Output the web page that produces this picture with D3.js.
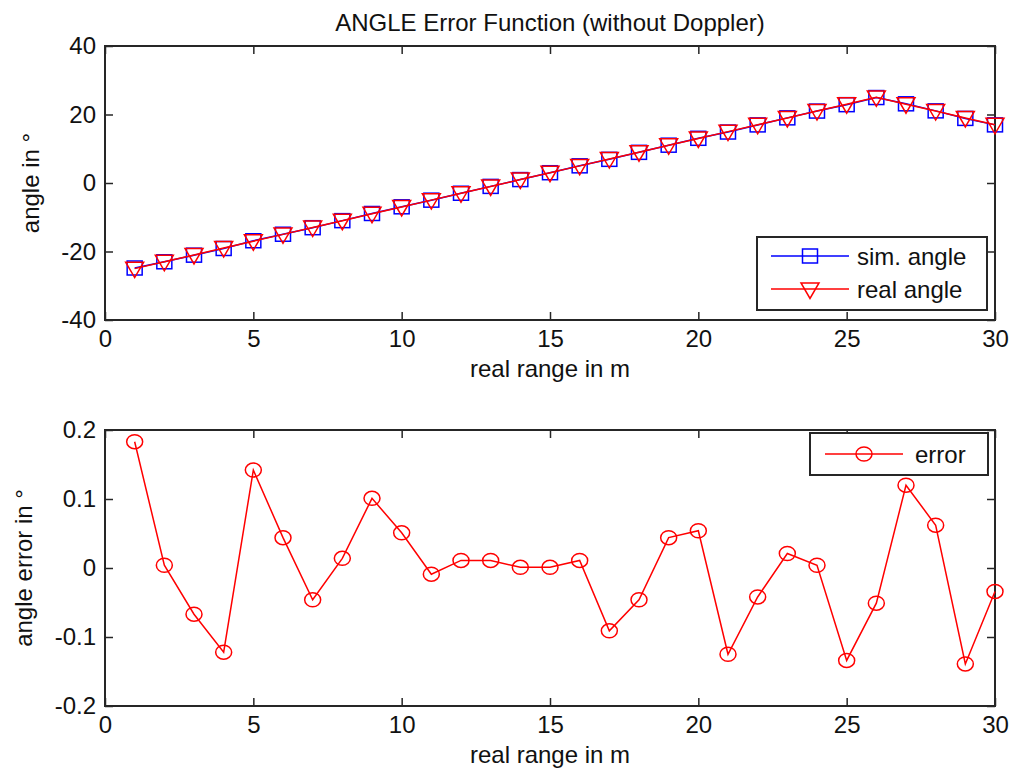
<!DOCTYPE html>
<html>
<head>
<meta charset="utf-8">
<script src="https://cdn.jsdelivr.net/npm/d3@7"></script>
<style>
  body { margin: 0; background: #fff; }
  svg text { font-family: "Liberation Sans", Arial, sans-serif; fill: #111; }
</style>
</head>
<body>
<div id="chart"></div>
<script>
// range in m (x positions of every sample)
const rangeM = [1, 2, 3, 4, 5, 6, 7, 8, 9, 10, 11, 12, 13, 14, 15,
                16, 17, 18, 19, 20, 21, 22, 23, 24, 25, 26, 27, 28, 29, 30];

// real angle in degrees (red triangles)
const realAngle = [-25, -23, -21, -19, -17, -15, -13, -11, -9, -7, -5, -3, -1, 1, 3,
                   5, 7, 9, 11, 13, 15, 17, 19, 21, 23, 25, 23, 21, 19, 17];

// simulated angle in degrees (blue squares)
const simAngle = [-24.82, -23.0, -21.07, -19.12, -16.86, -14.96, -13.05, -10.99, -8.9, -6.95,
                  -5.01, -2.99, -0.99, 1.0, 3.0, 5.01, 6.91, 8.95, 11.04, 13.05,
                  14.88, 16.96, 19.02, 21.0, 22.87, 24.95, 23.12, 21.06, 18.86, 16.97];

// angle error in degrees (red circles)
const angleError = [0.183, 0.004, -0.067, -0.122, 0.142, 0.044, -0.046, 0.014, 0.101, 0.051,
                    -0.009, 0.011, 0.011, 0.001, 0.001, 0.011, -0.091, -0.046, 0.044, 0.054,
                    -0.125, -0.042, 0.021, 0.004, -0.134, -0.051, 0.12, 0.062, -0.139, -0.034];

const xTicks = [0, 5, 10, 15, 20, 25, 30];
const yTicksTop = [-40, -20, 0, 20, 40];
const yTicksBottom = [-0.2, -0.1, 0, 0.1, 0.2];
const yTickLabelsBottom = ["-0.2", "-0.1", "0", "0.1", "0.2"];

const W = 1013, H = 771;
const FONT = 24;
const left = 105, right = 995;

const svg = d3.select('#chart').append('svg')
    .attr('width', W)
    .attr('height', H);

const x = d3.scaleLinear().domain([0, 30]).range([left, right]);

// draws one MATLAB style axes box with inward ticks
function drawAxes(y, top, bottom, yTicks, yFormat, yLabel, yLabelX) {
    const g = svg.append('g');

    g.append('g')
        .attr('transform', `translate(0,${bottom})`)
        .call(d3.axisBottom(x).tickValues(xTicks).tickSize(-8).tickPadding(10).tickFormat(d => String(d)));
    g.append('g')
        .attr('transform', `translate(0,${top})`)
        .call(d3.axisTop(x).tickValues(xTicks).tickSize(-8).tickFormat(''));
    g.append('g')
        .attr('transform', `translate(${left},0)`)
        .call(d3.axisLeft(y).tickValues(yTicks).tickSize(-8).tickPadding(9).tickFormat(yFormat));
    g.append('g')
        .attr('transform', `translate(${right},0)`)
        .call(d3.axisRight(y).tickValues(yTicks).tickSize(-8).tickFormat(''));

    g.selectAll('.domain').remove();
    g.selectAll('.tick line').attr('stroke', '#262626').attr('stroke-width', 1.5);
    g.selectAll('.tick text')
        .style('font-size', FONT + 'px')
        .style('font-family', '"Liberation Sans", Arial, sans-serif')
        .attr('fill', '#111');

    g.append('rect')
        .attr('x', left).attr('y', top)
        .attr('width', right - left).attr('height', bottom - top)
        .attr('fill', 'none')
        .attr('stroke', '#262626')
        .attr('stroke-width', 2);

    g.append('text')
        .attr('x', (left + right) / 2)
        .attr('y', bottom + 57)
        .attr('text-anchor', 'middle')
        .style('font-size', FONT + 'px')
        .text('real range in m');

    g.append('text')
        .attr('transform', `translate(${yLabelX},${(top + bottom) / 2}) rotate(-90)`)
        .attr('text-anchor', 'middle')
        .style('font-size', FONT + 'px')
        .text(yLabel);
}

function squareMarker(sel, cx, cy) {
    sel.append('rect')
        .attr('x', cx - 7.5).attr('y', cy - 7)
        .attr('width', 15).attr('height', 14)
        .attr('fill', 'none')
        .attr('stroke', '#0000ff')
        .attr('stroke-width', 1.5);
}

function triangleMarker(sel, cx, cy) {
    sel.append('path')
        .attr('d', `M${cx - 9},${cy - 6.5}L${cx + 9},${cy - 6.5}L${cx},${cy + 9}Z`)
        .attr('fill', 'none')
        .attr('stroke', '#ff0000')
        .attr('stroke-width', 1.5);
}

function circleMarker(sel, cx, cy) {
    sel.append('ellipse')
        .attr('cx', cx).attr('cy', cy)
        .attr('rx', 8).attr('ry', 7)
        .attr('fill', 'none')
        .attr('stroke', '#ff0000')
        .attr('stroke-width', 1.5);
}

// ---------- top panel ----------
const topT = 46, topB = 320;
const yTop = d3.scaleLinear().domain([-40, 40]).range([topB, topT]);

svg.append('text')
    .attr('x', (left + right) / 2)
    .attr('y', 31)
    .attr('text-anchor', 'middle')
    .style('font-size', FONT + 'px')
    .text('ANGLE Error Function (without Doppler)');

drawAxes(yTop, topT, topB, yTicksTop, d => String(d), 'angle in °', 39);

const line = d3.line();

const simPts = rangeM.map((r, i) => [x(r), yTop(simAngle[i])]);
const realPts = rangeM.map((r, i) => [x(r), yTop(realAngle[i])]);

const gSim = svg.append('g');
gSim.append('path')
    .attr('d', line(simPts))
    .attr('fill', 'none')
    .attr('stroke', '#0000ff')
    .attr('stroke-width', 1.5);
simPts.forEach(p => squareMarker(gSim, p[0], p[1]));

const gReal = svg.append('g');
gReal.append('path')
    .attr('d', line(realPts))
    .attr('fill', 'none')
    .attr('stroke', '#ff0000')
    .attr('stroke-width', 1.5);
realPts.forEach(p => triangleMarker(gReal, p[0], p[1]));

// top legend
const lg1 = svg.append('g');
lg1.append('rect')
    .attr('x', 757).attr('y', 237)
    .attr('width', 230).attr('height', 73)
    .attr('fill', '#fff')
    .attr('stroke', '#262626')
    .attr('stroke-width', 2);
lg1.append('line')
    .attr('x1', 771).attr('x2', 849).attr('y1', 256).attr('y2', 256)
    .attr('stroke', '#0000ff').attr('stroke-width', 1.5);
squareMarker(lg1, 810, 256);
lg1.append('text').attr('x', 857).attr('y', 264.5).style('font-size', FONT + 'px').text('sim. angle');
lg1.append('line')
    .attr('x1', 771).attr('x2', 849).attr('y1', 289).attr('y2', 289)
    .attr('stroke', '#ff0000').attr('stroke-width', 1.5);
triangleMarker(lg1, 810, 289.5);
lg1.append('text').attr('x', 857).attr('y', 298).style('font-size', FONT + 'px').text('real angle');

// ---------- bottom panel ----------
const botT = 430, botB = 706;
const yBot = d3.scaleLinear().domain([-0.2, 0.2]).range([botB, botT]);

drawAxes(yBot, botT, botB, yTicksBottom, d => yTickLabelsBottom[yTicksBottom.indexOf(d)], 'angle error in °', 32);

const errPts = rangeM.map((r, i) => [x(r), yBot(angleError[i])]);
const gErr = svg.append('g');
gErr.append('path')
    .attr('d', line(errPts))
    .attr('fill', 'none')
    .attr('stroke', '#ff0000')
    .attr('stroke-width', 1.5);
errPts.forEach(p => circleMarker(gErr, p[0], p[1]));

// bottom legend
const lg2 = svg.append('g');
lg2.append('rect')
    .attr('x', 810).attr('y', 433)
    .attr('width', 178).attr('height', 42)
    .attr('fill', '#fff')
    .attr('stroke', '#262626')
    .attr('stroke-width', 2);
lg2.append('line')
    .attr('x1', 825).attr('x2', 903).attr('y1', 454).attr('y2', 454)
    .attr('stroke', '#ff0000').attr('stroke-width', 1.5);
circleMarker(lg2, 864, 454);
lg2.append('text').attr('x', 915).attr('y', 462.5).style('font-size', FONT + 'px').text('error');
</script>
</body>
</html>
